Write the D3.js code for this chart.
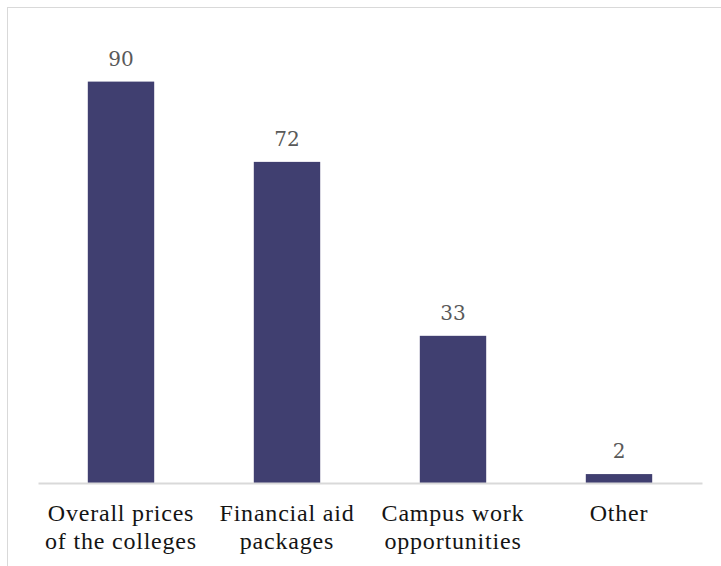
<!DOCTYPE html>
<html>
<head>
<meta charset="utf-8">
<script src="https://cdn.jsdelivr.net/npm/d3@7"></script>
<style>
  html, body { margin: 0; padding: 0; background: #fff; }
  svg { display: block; }
</style>
</head>
<body>
<svg id="chart" width="721" height="566"></svg>
<script>
// Factors students weigh when comparing colleges
const categories = ["Overall prices of the colleges", "Financial aid packages", "Campus work opportunities", "Other"];
const categoryLines = [["Overall prices", "of the colleges"], ["Financial aid", "packages"], ["Campus work", "opportunities"], ["Other"]];
const values = [90, 72, 33, 2];
const yDomain = [0, 100];

const svg = d3.select("#chart");
const W = 721, H = 566;
const baseY = 483;

// Outer frame
svg.append("rect")
  .attr("x", 7.5).attr("y", 7.5)
  .attr("width", W + 20).attr("height", H + 20)
  .attr("fill", "#fff")
  .attr("stroke", "#d9d9d9")
  .attr("stroke-width", 1);

const x = d3.scaleBand()
  .domain(categories)
  .range([38, 702])
  .paddingInner(0.6)
  .paddingOuter(0.3);

const y = d3.scaleLinear()
  .domain(yDomain)
  .range([baseY, 37]);

// Bars
svg.append("g").selectAll("rect")
  .data(values)
  .join("rect")
  .attr("x", (d, i) => x(categories[i]))
  .attr("y", d => y(d))
  .attr("width", x.bandwidth())
  .attr("height", d => y(0) - y(d))
  .attr("fill", "#403f70");

// Value labels
svg.append("g").selectAll("text")
  .data(values)
  .join("text")
  .attr("x", (d, i) => x(categories[i]) + x.bandwidth() / 2)
  .attr("y", d => y(d) - 16)
  .attr("text-anchor", "middle")
  .attr("font-family", "'DejaVu Serif', serif")
  .attr("font-size", 20)
  .attr("fill", "#595959")
  .text(d => d);

// Category axis
const xAxis = svg.append("g")
  .attr("transform", `translate(0,${baseY})`)
  .call(d3.axisBottom(x).tickSize(0).tickFormat(""));
xAxis.select(".domain")
  .attr("stroke", "#d9d9d9")
  .attr("stroke-width", 2);

const labels = svg.append("g").selectAll("text")
  .data(categories)
  .join("text")
  .attr("x", d => x(d) + x.bandwidth() / 2)
  .attr("y", baseY + 38)
  .attr("text-anchor", "middle")
  .attr("font-family", "'Liberation Serif', 'Times New Roman', serif")
  .attr("font-size", 24)
  .attr("letter-spacing", 0.8)
  .attr("fill", "#141414");

labels.each(function (d, i) {
  const t = d3.select(this);
  categoryLines[i].forEach((line, j) => {
    t.append("tspan")
      .attr("x", x(d) + x.bandwidth() / 2)
      .attr("dy", j === 0 ? 0 : 28)
      .text(line);
  });
});
</script>
</body>
</html>
